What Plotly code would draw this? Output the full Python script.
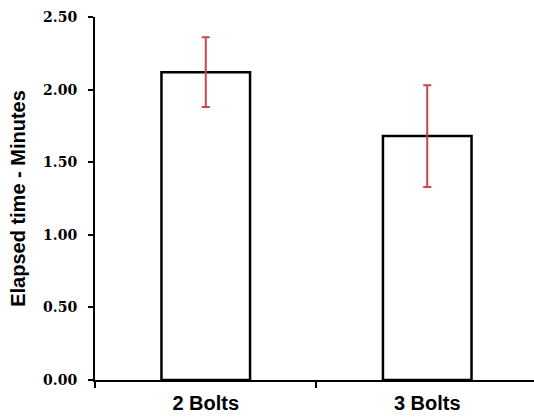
import plotly.graph_objects as go

categories = ["2 Bolts", "3 Bolts"]
mean_minutes = [2.12, 1.68]
error_minutes = [0.24, 0.35]
y_ticks = [0.0, 0.5, 1.0, 1.5, 2.0, 2.5]
y_tick_labels = ["0.00", "0.50", "1.00", "1.50", "2.00", "2.50"]

fig = go.Figure()
fig.add_trace(go.Bar(
    x=categories,
    y=mean_minutes,
    width=0.4,
    marker=dict(color="white", line=dict(color="black", width=2.5)),
    error_y=dict(type="data", array=error_minutes, visible=True,
                 color="#c9474b", thickness=2, width=4),
))

fig.update_layout(
    width=534, height=419,
    margin=dict(l=95, r=0, t=17, b=39),
    paper_bgcolor="white", plot_bgcolor="white",
    showlegend=False,
    xaxis=dict(
        type="category",
        range=[-0.5, 1.482],
        automargin=False,
        showline=True, linecolor="black", linewidth=2,
        ticks="outside", tickson="boundaries", ticklen=6, tickwidth=2, tickcolor="black",
        tickfont=dict(family="Liberation Sans, Arial", size=20, color="black", weight="bold"),
        ticklabelstandoff=4,
        showgrid=False, zeroline=False,
    ),
    yaxis=dict(
        range=[0, 2.5],
        automargin=False,
        tickvals=y_ticks, ticktext=y_tick_labels,
        showline=True, linecolor="black", linewidth=2,
        ticks="outside", ticklen=5, tickwidth=2, tickcolor="black",
        tickfont=dict(family="DejaVu Serif", size=14, color="black", weight="bold"),
        ticklabelstandoff=8,
        showgrid=False, zeroline=False,
        title=dict(text="Elapsed time - Minutes", standoff=12,
                   font=dict(family="Liberation Sans, Arial", size=20, color="black", weight="bold")),
    ),
)

fig.write_html("out.html", config={"displayModeBar": False},
               post_script="document.body.style.margin='0';")
